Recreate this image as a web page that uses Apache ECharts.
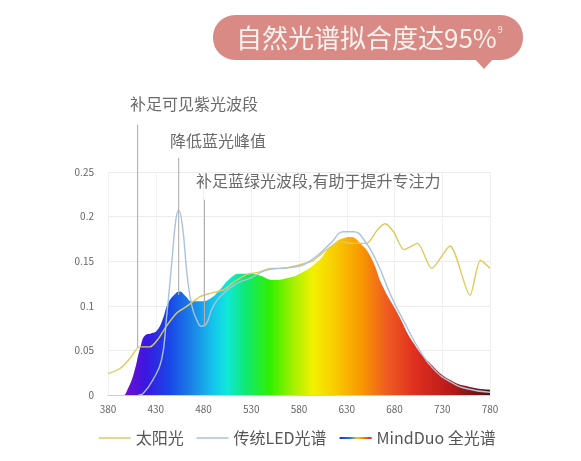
<!DOCTYPE html>
<html>
<head>
<meta charset="utf-8">
<script src="https://cdn.jsdelivr.net/npm/echarts@6/dist/echarts.min.js"></script>
<style>
html,body{margin:0;padding:0;background:#fff;}
#c{width:581px;height:461px;}
</style>
</head>
<body>
<div id="c"></div>
<script>
// ---- data ----
var xTicks = [380, 430, 480, 530, 580, 630, 680, 730, 780];
var yTicks = [0, 0.05, 0.1, 0.15, 0.2, 0.25];

var sunWl  = [380, 393, 403, 413, 424, 432, 441, 452, 462, 476, 487, 501, 511, 525, 539, 550, 563, 581, 595, 609, 623, 637, 651, 662, 670, 679, 690, 704, 719, 738, 759, 770, 780];
var sunVal = [0.024, 0.030, 0.041, 0.054, 0.054, 0.062, 0.077, 0.092, 0.099, 0.110, 0.114, 0.118, 0.126, 0.135, 0.138, 0.142, 0.142, 0.146, 0.151, 0.163, 0.172, 0.170, 0.170, 0.185, 0.192, 0.183, 0.163, 0.170, 0.142, 0.167, 0.112, 0.151, 0.142];

var ledWl  = [412, 417, 427, 436, 441, 447, 451, 454, 458, 463, 468, 473, 478, 483, 490, 501, 515, 529, 546, 560, 578, 595, 613, 627, 637, 648, 662, 676, 693, 707, 721, 738, 756, 780];
var ledVal = [0.0, 0.002, 0.017, 0.039, 0.084, 0.151, 0.196, 0.207, 0.189, 0.133, 0.099, 0.084, 0.077, 0.080, 0.099, 0.114, 0.125, 0.131, 0.140, 0.142, 0.144, 0.153, 0.170, 0.183, 0.183, 0.174, 0.148, 0.112, 0.076, 0.049, 0.029, 0.015, 0.007, 0.003];

var mdWl  = [380, 396, 400, 407, 414, 419, 425, 431, 437, 443, 450, 455, 461, 468, 476, 487, 497, 508, 518, 529, 539, 553, 567, 581, 599, 613, 627, 634, 644, 655, 668, 683, 700, 717, 738, 759, 780];
var mdVal = [0, 0, 0.005, 0.024, 0.054, 0.067, 0.069, 0.072, 0.084, 0.103, 0.113, 0.116, 0.111, 0.105, 0.105, 0.108, 0.118, 0.131, 0.136, 0.136, 0.134, 0.129, 0.131, 0.136, 0.149, 0.166, 0.176, 0.177, 0.170, 0.155, 0.121, 0.092, 0.058, 0.036, 0.017, 0.009, 0.006];

// spectrum colours by wavelength
var specWl  = [380, 400, 420, 445, 470, 490, 505, 525, 550, 575, 595, 620, 645, 670, 700, 740, 780];
var specCol = ['#5a10c0', '#6a10d0', '#3a18e0', '#1848e6', '#1c88e8', '#14c4ec', '#10e8d8', '#10e870', '#30f000', '#a8f000', '#f4f000', '#f8c800', '#f89800', '#f06020', '#e03020', '#b81818', '#501010'];

// annotations
var annoWl   = [411, 454, 481];
var annoTop  = [0.303, 0.266, 0.219];
var annoBot  = [0.053, 0.112, 0.078];
var annoText = ['补足可见紫光波段', '降低蓝光峰值', '补足蓝绿光波段,有助于提升专注力'];

var seriesNames = ['太阳光', '传统LED光谱', 'MindDuo 全光谱'];
var titleText = '自然光谱拟合度达95%';
var titleSup = '9';

function zip(a, b) { return a.map(function (v, i) { return [v, b[i]]; }); }

var xMin = xTicks[0], xMax = xTicks[xTicks.length - 1];
var stops = specWl.map(function (w, i) { return { offset: (w - xMin) / (xMax - xMin), color: specCol[i] }; });
var areaGrad = new echarts.graphic.LinearGradient(0, 0, 1, 0, stops);
var legendGrad = new echarts.graphic.LinearGradient(0, 0, 1, 0, [
  { offset: 0, color: '#1a2ad0' }, { offset: 0.35, color: '#2080e0' },
  { offset: 0.55, color: '#f0d000' }, { offset: 1, color: '#d02020' }
]);

var chart = echarts.init(document.getElementById('c'), null, { renderer: 'canvas' });

var font = '"Noto Sans CJK SC", "Noto Sans", sans-serif';

chart.setOption({
  animation: false,
  backgroundColor: '#ffffff',
  textStyle: { fontFamily: font },
  grid: { left: 108, right: 91, top: 172, bottom: 66 },
  xAxis: {
    type: 'value', min: xMin, max: xMax, interval: 50,
    axisLine: { show: true, lineStyle: { color: '#cfcfcf' } },
    axisTick: { show: false },
    axisLabel: { color: '#666', fontSize: 10, margin: 9 },
    splitLine: { show: true, lineStyle: { color: '#f0f0f0' } }
  },
  yAxis: {
    type: 'value', min: 0, max: 0.25, interval: 0.05,
    axisLine: { show: false },
    axisTick: { show: false },
    axisLabel: { color: '#666', fontSize: 10, margin: 14, formatter: function (v) { return String(+v.toFixed(2)); } },
    splitLine: { show: true, lineStyle: { color: '#ececec' } }
  },
  legend: {
    left: 93, top: 425,
    itemWidth: 32, itemHeight: 12, itemGap: 12,
    itemStyle: { opacity: 0 },
    textStyle: { color: '#555', fontSize: 16, fontFamily: font },
    data: [
      { name: seriesNames[0], itemStyle: { opacity: 0 }, lineStyle: { width: 1.5 } },
      { name: seriesNames[1], itemStyle: { opacity: 0 }, lineStyle: { width: 1.5 } },
      { name: seriesNames[2], itemStyle: { color: legendGrad, opacity: 0 }, lineStyle: { color: legendGrad, width: 2 } }
    ]
  },
  series: [
    {
      name: seriesNames[2], type: 'line', data: zip(mdWl, mdVal), smooth: 0.5,
      symbol: 'none', z: 1,
      lineStyle: { width: 0, color: legendGrad },
      itemStyle: { color: legendGrad },
      areaStyle: { color: areaGrad, opacity: 1 }
    },
    {
      name: seriesNames[0], type: 'line', data: zip(sunWl, sunVal), smooth: 0.25,
      symbol: 'none', z: 3,
      lineStyle: { width: 1.4, color: '#dccb5a' },
      itemStyle: { color: '#dccb5a' }
    },
    {
      name: seriesNames[1], type: 'line', data: zip(ledWl, ledVal), smooth: 0.5,
      symbol: 'none', z: 4,
      lineStyle: { width: 1.4, color: '#a9c3df' },
      itemStyle: { color: '#a9c3df' }
    }
  ]
});

// graphics: title bubble + annotation lines/texts
var g = [];
g.push({
  type: 'rect', shape: { x: 213, y: 15, width: 310, height: 45, r: 22 },
  style: { fill: '#d98a84' }, z: 10
});
g.push({
  type: 'polygon', shape: { points: [[474, 58], [494, 58], [484, 69]] },
  style: { fill: '#d98a84' }, z: 10
});
g.push({
  type: 'text', x: 236, y: 38, z: 11,
  style: {
    text: '{a|' + titleText + '}{s|' + titleSup + '}',
    verticalAlign: 'middle',
    rich: {
      a: { fontSize: 26, fill: '#fdf2ee', fontFamily: font },
      s: { fontSize: 9, fill: '#fdf2ee', fontFamily: font, verticalAlign: 'top', padding: [0, 0, 14, 1] }
    }
  }
});
var textPos = [[130, 104], [170, 141], [196, 181]];
annoWl.forEach(function (w, i) {
  var p1 = chart.convertToPixel({ gridIndex: 0 }, [w, annoTop[i]]);
  var p2 = chart.convertToPixel({ gridIndex: 0 }, [w, annoBot[i]]);
  g.push({
    type: 'line', shape: { x1: p1[0], y1: p1[1], x2: p2[0], y2: p2[1] },
    style: { stroke: '#b0b0b0', lineWidth: 1.1 }, z: 5
  });
  g.push({
    type: 'text', x: textPos[i][0], y: textPos[i][1], z: 6,
    style: { text: annoText[i], fill: '#6a6a6a', fontSize: 16, fontFamily: font, verticalAlign: 'middle' }
  });
});
chart.setOption({ graphic: g });
</script>
</body>
</html>
